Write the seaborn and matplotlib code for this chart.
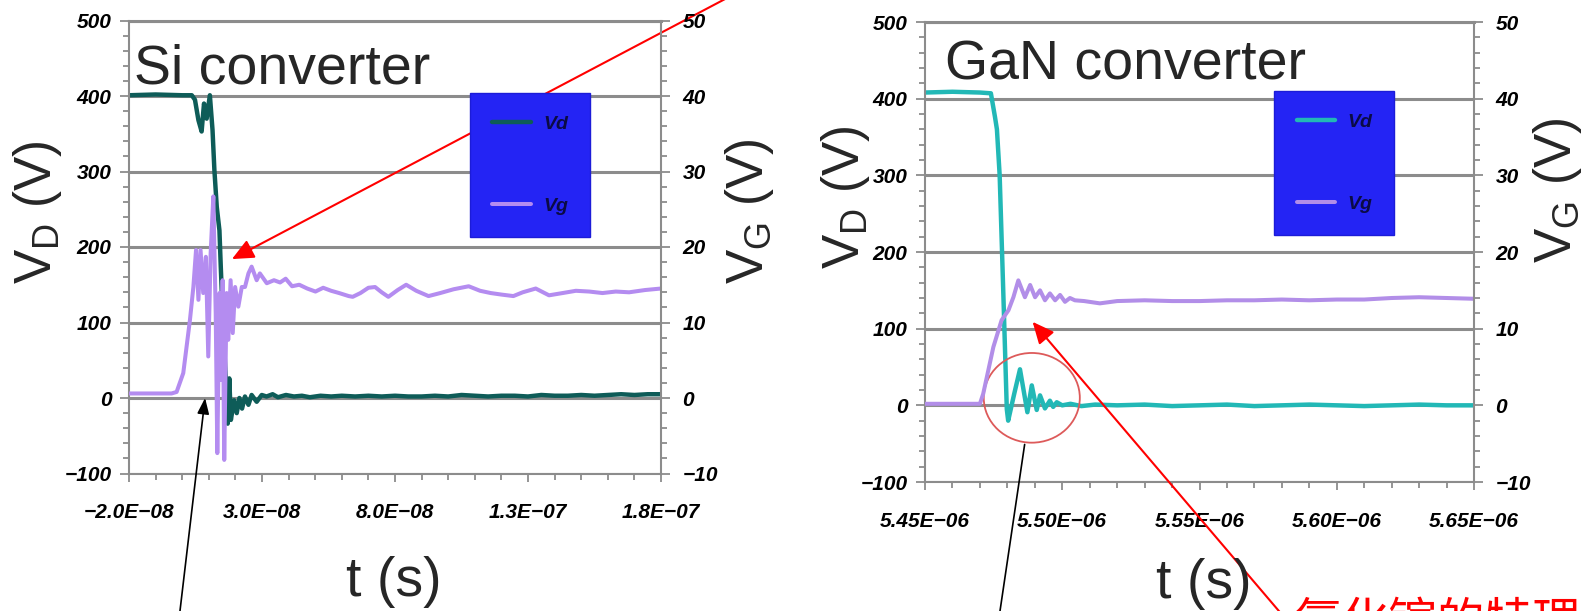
import numpy as np
import pandas as pd
import matplotlib
matplotlib.use("Agg")
import matplotlib.pyplot as plt
import seaborn as sns
from matplotlib.ticker import MultipleLocator
from matplotlib.patches import Ellipse
from matplotlib.font_manager import FontProperties

# ---------------- Si converter switching transient (t in ns) ----------------
si_vd_t = [-20.0, -10.0, 0.0, 3.6, 4.8, 6.1, 7.3, 8.2, 9.2, 10.4,
           11.4, 12.1, 13.0, 14.0, 14.5, 15.1, 16.1, 17.1, 17.7, 18.3,
           19.5, 20.5, 21.5, 22.5, 23.6, 24.9, 26.1, 28.0, 29.9, 31.7,
           34, 36, 39, 42, 45, 48, 52, 56, 60, 65,
           70, 75, 80, 85, 90, 95, 100, 105, 110, 115,
           120, 125, 130, 135, 140, 145, 150, 155, 160, 165,
           170, 175, 180]
si_vd_v = [401, 402, 401, 401, 395, 368, 353, 390, 370, 401,
           355, 302, 253, 222, 174, 121, 46, -34, 26, -29,
           -3, -20, 0, -14, 2, -9, 4, -5, 4, 2,
           5, 1, 4, 2, 3, 1, 3, 2, 3, 2,
           3, 2, 3, 2, 2, 3, 2, 4, 3, 2,
           3, 3, 2, 4, 3, 3, 4, 3, 4, 5,
           4, 5, 5]
si_vg_t = [-20.0, -10.0, -4.0, -2.1, 0.4, 2.9, 4.2, 5.2, 6.1, 6.9,
           7.9, 8.9, 9.8, 10.7, 11.7, 12.6, 13.2, 14.0, 14.6, 15.2,
           15.8, 16.7, 17.3, 18.2, 19.0, 19.9, 21.1, 22.4, 23.6, 24.9,
           26.1, 28.0, 29.2, 31.8, 34.5, 36.8, 38.9, 41.3, 44.0, 47.0,
           50.1, 53.0, 56.0, 59.0, 62.6, 64.1, 67.0, 70.0, 72.5, 75.0,
           77.5, 81.0, 84.2, 88.0, 92.6, 97.0, 102.0, 107.7, 112.0, 116.0,
           120.0, 124.5, 128.0, 132.9, 137.9, 143.0, 148.0, 153.0, 158.0, 163.0,
           168.0, 174.0, 180.0]
si_vg_v = [0.6, 0.6, 0.6, 0.8, 3.3, 10.3, 14.7, 19.6, 13.0, 19.6,
           13.9, 18.7, 5.5, 19.2, 26.7, 11.2, -7.3, 13.9, 2.4, 15.6,
           -8.2, 13.9, 7.7, 15.6, 8.6, 14.7, 12.1, 14.7, 14.7, 16.5,
           17.4, 15.6, 16.5, 15.2, 15.6, 15.3, 15.8, 14.8, 15.0, 14.5,
           14.1, 14.6, 14.2, 13.9, 13.5, 13.4, 13.9, 14.6, 14.7, 14.0,
           13.4, 14.3, 15.0, 14.2, 13.5, 13.9, 14.4, 14.8, 14.2, 13.9,
           13.7, 13.5, 14.0, 14.5, 13.6, 13.9, 14.2, 14.1, 13.9, 14.1,
           14.0, 14.3, 14.5]

# ---------------- GaN converter switching transient (t in ns) ----------------
gan_vd_t = [5450.0, 5460.0, 5470.0, 5474.0, 5475.5, 5476.2, 5477.2, 5478.5, 5479.8, 5480.3,
            5482.5, 5484.6, 5487.3, 5488.9, 5490.7, 5491.9, 5493.7, 5495.5, 5496.7, 5498.0,
            5500.0, 5503.0, 5507.0, 5512.0, 5520.0, 5530.0, 5540.0, 5550.0, 5560.0, 5570.0,
            5580.0, 5590.0, 5600.0, 5610.0, 5620.0, 5630.0, 5640.0, 5650.0]
gan_vd_v = [408, 409, 408, 407, 376, 360, 300, 150, -5, -20,
            15, 47, -9, 26, -6, 13, -4, 6, -2, 4,
            0, 2, -1, 1, 0, 1, -1, 0, 1, -1,
            0, 1, 0, -1, 0, 1, 0, 0]
gan_vg_t = [5450.0, 5460.0, 5470.0, 5471.2, 5474.9, 5477.9, 5480.4, 5482.2, 5484.0, 5486.4,
            5488.3, 5490.1, 5491.9, 5493.7, 5495.5, 5497.4, 5499.2, 5501.0, 5502.8, 5504.6,
            5508.0, 5513.7, 5520.0, 5530.0, 5540.0, 5550.0, 5560.0, 5570.0, 5580.0, 5590.0,
            5600.0, 5610.0, 5620.0, 5630.0, 5640.0, 5650.0]
gan_vg_v = [0.2, 0.2, 0.2, 1.5, 7.6, 11.1, 12.4, 14.1, 16.3, 14.1,
            15.7, 14.1, 15.0, 13.7, 14.6, 13.7, 14.4, 13.5, 14.0, 13.7,
            13.6, 13.3, 13.6, 13.7, 13.6, 13.6, 13.7, 13.7, 13.8, 13.7,
            13.8, 13.8, 14.0, 14.1, 14.0, 13.9]

# ---------------- axis ticks and labels ----------------
si_xticks = [-2.0e-8, 3.0e-8, 8.0e-8, 1.3e-7, 1.8e-7]
gan_xticks = [5.45e-6, 5.50e-6, 5.55e-6, 5.60e-6, 5.65e-6]
vd_ticks = [-100, 0, 100, 200, 300, 400, 500]
vg_ticks = [-10, 0, 10, 20, 30, 40, 50]
legend_labels = ["Vd", "Vg"]
titles = ["Si converter", "GaN converter"]
note_text = "氮化镓的特理"

W, H = 1583, 611
GRID = "#8c8c8c"

sns.set_theme(style="white")
plt.rcParams["font.family"] = ["Liberation Sans", "DejaVu Sans"]
plt.rcParams["mathtext.fontset"] = "custom"
plt.rcParams["mathtext.rm"] = "Liberation Sans"
plt.rcParams["mathtext.it"] = "Liberation Sans:italic"
plt.rcParams["mathtext.bf"] = "Liberation Sans:bold"

fig = plt.figure(figsize=(W / 100, H / 100), dpi=100)


def box(x0, x1, ytop, ybot):
    return [x0 / W, 1 - ybot / H, (x1 - x0) / W, (ybot - ytop) / H]


def minus(s):
    return s.replace("-", "\u2212")


tick_kw = dict(fontsize=15, fontweight="bold", fontstyle="italic", color="black")
legend_font = FontProperties(family="Liberation Sans", weight="bold", style="italic", size=14)


def panel(ax, t_vd, vd, t_vg, vg, c_vd, c_vg, xticks, fmt, xlim, minor_step, leg_anchor):
    df_d = pd.DataFrame({"t": np.array(t_vd) * 1e-9, "v": vd})
    df_g = pd.DataFrame({"t": np.array(t_vg) * 1e-9, "v": vg})
    axg = ax.twinx()
    sns.lineplot(data=df_d, x="t", y="v", ax=ax, color=c_vd, linewidth=3.2,
                 estimator=None, sort=False)
    line_d = ax.lines[-1]
    sns.lineplot(data=df_g, x="t", y="v", ax=axg, color=c_vg, linewidth=2.9,
                 estimator=None, sort=False)
    line_g = axg.lines[-1]
    for a in (ax, axg):
        a.set_xlabel("")
        a.set_ylabel("")
    ax.set_xlim(xlim)
    ax.set_ylim(-100, 500)
    axg.set_ylim(-10, 50)

    ax.set_xticks(xticks, [minus(fmt.format(x)) for x in xticks], **tick_kw)
    ax.xaxis.set_minor_locator(MultipleLocator(minor_step))
    ax.set_yticks(vd_ticks, [minus(str(v)) for v in vd_ticks], **tick_kw)
    ax.yaxis.set_minor_locator(MultipleLocator(20))
    axg.set_yticks(vg_ticks, [minus(str(v)) for v in vg_ticks], **tick_kw)
    axg.yaxis.set_minor_locator(MultipleLocator(2))

    ax.tick_params(axis="x", which="both", bottom=True, top=False, direction="out",
                   color=GRID, width=1.3, pad=15.5)
    ax.tick_params(axis="x", which="major", length=6)
    ax.tick_params(axis="x", which="minor", length=4.5)
    ax.tick_params(axis="y", which="both", left=True, right=False, direction="out",
                   color=GRID, width=1.3, pad=6)
    ax.tick_params(axis="y", which="major", length=6.5)
    ax.tick_params(axis="y", which="minor", length=4)
    axg.tick_params(axis="y", which="both", right=True, left=False, direction="out",
                    color=GRID, width=1.3, pad=9)
    axg.tick_params(axis="y", which="major", length=6.5)
    axg.tick_params(axis="y", which="minor", length=4)

    ax.grid(axis="y", color=GRID, linewidth=2.2)
    ax.grid(axis="x", visible=False)
    ax.set_axisbelow(True)
    for name, sp in ax.spines.items():
        sp.set_color(GRID)
        sp.set_linewidth(1.5)
    ax.spines["top"].set_linewidth(2.2)
    ax.spines["right"].set_visible(False)
    for name, sp in axg.spines.items():
        sp.set_visible(name == "right")
    axg.spines["right"].set_color(GRID)
    axg.spines["right"].set_linewidth(1.5)

    leg = axg.legend([line_d, line_g], legend_labels, loc="upper left",
                     bbox_to_anchor=leg_anchor, borderaxespad=0, frameon=True,
                     facecolor="#2424f4", edgecolor="#1c1cd8", framealpha=1,
                     fancybox=False, prop=legend_font, handlelength=2.0,
                     handletextpad=0.6, borderpad=1.15, labelspacing=3.3)
    for t in leg.get_texts():
        t.set_color("#0b0b45")
    return axg


ax_si = fig.add_axes(box(129, 661, 20.5, 473.5))
ax_gan = fig.add_axes(box(925, 1474, 22, 482))

panel(ax_si, si_vd_t, si_vd_v, si_vg_t, si_vg_v, "#0e5c58", "#b48cf0",
      si_xticks, "{:.1E}", (-2.0e-8, 1.8e-7), 1e-8, (0.641, 0.84))
panel(ax_gan, gan_vd_t, gan_vd_v, gan_vg_t, gan_vg_v, "#22b8b6", "#b28ee8",
      gan_xticks, "{:.2E}", (5.45e-6, 5.65e-6), 1e-8, (0.636, 0.85))

# panel titles
fig.text(134 / W, 1 - 84 / H, titles[0], fontsize=40, ha="left", va="baseline")
fig.text(945 / W, 1 - 80 / H, titles[1], fontsize=40, ha="left", va="baseline")

# axis titles
ylab_kw = dict(rotation=90, fontsize=37, ha="center", va="center")
fig.text(38 / W, 1 - 212 / H, r"V$_\mathrm{D}$ (V)", **ylab_kw)
fig.text(750 / W, 1 - 211 / H, r"V$_\mathrm{G}$ (V)", **ylab_kw)
fig.text(845 / W, 1 - 197 / H, r"V$_\mathrm{D}$ (V)", **ylab_kw)
fig.text(1558 / W, 1 - 190 / H, r"V$_\mathrm{G}$ (V)", **ylab_kw)
fig.text(394 / W, 1 - 582 / H, "t (s)", fontsize=40, ha="center", va="center")
fig.text(1204 / W, 1 - 584 / H, "t (s)", fontsize=40, ha="center", va="center")

# callouts on the Si transient
ax_si.annotate("", xy=(18.7e-9, 184), xycoords="data",
               xytext=(727 / W, 1 + 2 / H), textcoords="figure fraction",
               arrowprops=dict(arrowstyle="-|>,head_length=1.1,head_width=0.5",
                               color="red", lw=1.5, shrinkA=0, shrinkB=0),
               annotation_clip=False)
ax_si.annotate("", xy=(8.6e-9, 0), xycoords="data",
               xytext=(179.5 / W, -4 / H), textcoords="figure fraction",
               arrowprops=dict(arrowstyle="-|>,head_length=0.8,head_width=0.3",
                               color="black", lw=1.2, shrinkA=0, shrinkB=0),
               annotation_clip=False)

# callouts on the GaN transient
ax_gan.add_patch(Ellipse((5488.9e-9, 9.8), width=35e-9, height=117, fill=False,
                         edgecolor="#dd5a5a", linewidth=1.3, clip_on=False, zorder=5))
ax_gan.annotate("", xy=(5486.3e-9, -51), xycoords="data",
                xytext=(999.7 / W, -2 / H), textcoords="figure fraction",
                arrowprops=dict(arrowstyle="-", color="black", lw=1.2,
                                shrinkA=0, shrinkB=0),
                annotation_clip=False)
ax_gan.annotate("", xy=(5489.2e-9, 108.9), xycoords="data",
                xytext=(1284 / W, -6 / H), textcoords="figure fraction",
                arrowprops=dict(arrowstyle="-|>,head_length=1.1,head_width=0.5",
                                color="red", lw=1.5, shrinkA=0, shrinkB=0),
                annotation_clip=False)
fig.text(1293 / W, 1 - 637 / H, note_text, color="red", fontsize=34.5,
         family=["Noto Sans CJK SC"], ha="left", va="baseline")

fig.savefig("out.png", dpi=100)
